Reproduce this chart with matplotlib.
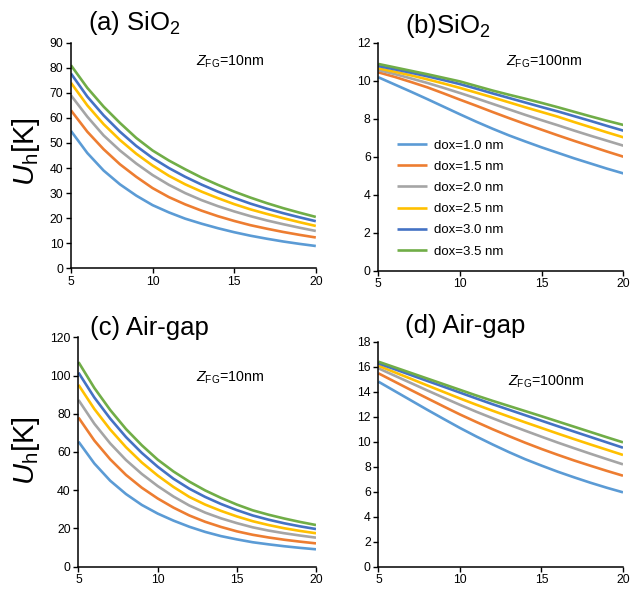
import matplotlib
matplotlib.use("Agg")
import matplotlib.pyplot as plt

plt.rcParams["font.family"] = ["Liberation Sans", "DejaVu Sans"]
plt.rcParams["mathtext.fontset"] = "custom"
plt.rcParams["mathtext.rm"] = "Liberation Sans"
plt.rcParams["mathtext.it"] = "Liberation Sans:italic"

# x axis (same for every panel)
x = [5, 6, 7, 8, 9, 10, 11, 12, 13, 14, 15, 16, 17, 18, 19, 20]

labels = ["dox=1.0 nm", "dox=1.5 nm", "dox=2.0 nm",
          "dox=2.5 nm", "dox=3.0 nm", "dox=3.5 nm"]
colors = ["#5B9BD5", "#ED7D31", "#A5A5A5", "#FFC000", "#4472C4", "#70AD47"]

# (a) SiO2, Z_FG = 10nm
sio2_10 = [
    [54.8, 46.0, 39.0, 33.5, 29.0, 25.2, 22.3, 19.8, 17.8, 16.0, 14.4, 13.0, 11.8, 10.7, 9.75, 8.9],
    [63.0, 54.5, 47.5, 41.5, 36.5, 32.0, 28.4, 25.5, 23.0, 20.8, 18.9, 17.2, 15.8, 14.5, 13.35, 12.3],
    [69.0, 60.5, 53.0, 47.0, 41.8, 37.2, 33.3, 30.0, 27.2, 24.8, 22.7, 20.8, 19.1, 17.6, 16.2, 14.9],
    [74.0, 65.0, 57.5, 51.2, 45.7, 41.0, 36.9, 33.5, 30.6, 28.0, 25.6, 23.5, 21.7, 20.0, 18.4, 16.9],
    [77.7, 68.5, 61.0, 54.5, 48.8, 44.0, 40.0, 36.5, 33.4, 30.6, 28.1, 25.8, 23.8, 22.0, 20.35, 18.8],
    [81.0, 72.0, 64.5, 58.0, 52.0, 47.0, 43.0, 39.5, 36.2, 33.3, 30.6, 28.2, 26.0, 24.0, 22.2, 20.5],
]

# (b) SiO2, Z_FG = 100nm
sio2_100 = [
    [10.18, 9.80, 9.42, 9.03, 8.63, 8.23, 7.84, 7.47, 7.12, 6.80, 6.49, 6.20, 5.91, 5.64, 5.37, 5.12],
    [10.44, 10.20, 9.93, 9.65, 9.33, 9.00, 8.68, 8.35, 8.03, 7.72, 7.42, 7.12, 6.83, 6.55, 6.27, 6.00],
    [10.56, 10.35, 10.12, 9.88, 9.62, 9.35, 9.07, 8.78, 8.49, 8.20, 7.92, 7.65, 7.37, 7.10, 6.84, 6.58],
    [10.65, 10.47, 10.28, 10.07, 9.85, 9.62, 9.37, 9.12, 8.86, 8.60, 8.35, 8.10, 7.82, 7.55, 7.28, 7.02],
    [10.77, 10.60, 10.42, 10.23, 10.03, 9.82, 9.58, 9.33, 9.09, 8.85, 8.61, 8.38, 8.13, 7.88, 7.62, 7.37],
    [10.88, 10.70, 10.52, 10.34, 10.15, 9.96, 9.72, 9.48, 9.26, 9.05, 8.83, 8.60, 8.36, 8.12, 7.89, 7.67],
]

# (c) Air-gap, Z_FG = 10nm
air_10 = [
    [65.4, 54.0, 45.0, 38.0, 32.3, 27.8, 24.1, 20.9, 18.2, 16.0, 14.3, 12.8, 11.7, 10.7, 9.85, 9.1],
    [78.0, 66.0, 56.2, 48.0, 41.3, 35.7, 30.9, 26.8, 23.5, 20.8, 18.5, 16.7, 15.3, 14.1, 13.1, 12.2],
    [87.2, 74.8, 64.5, 55.8, 48.5, 42.2, 36.7, 32.0, 28.3, 25.3, 22.8, 20.6, 18.9, 17.5, 16.3, 15.2],
    [95.1, 82.5, 71.8, 62.5, 54.5, 47.7, 41.7, 36.5, 32.5, 29.2, 26.3, 23.8, 21.8, 20.1, 18.7, 17.5],
    [101.5, 88.5, 77.5, 67.8, 59.5, 52.3, 46.0, 40.8, 36.5, 32.8, 29.6, 26.8, 24.6, 22.7, 21.1, 19.7],
    [107.0, 93.5, 82.0, 72.0, 63.5, 56.0, 49.8, 44.5, 39.9, 36.0, 32.5, 29.5, 27.2, 25.2, 23.4, 21.8],
]

# (d) Air-gap, Z_FG = 100nm
air_100 = [
    [14.80, 14.05, 13.30, 12.55, 11.82, 11.10, 10.42, 9.78, 9.17, 8.60, 8.09, 7.60, 7.15, 6.72, 6.32, 5.95],
    [15.47, 14.80, 14.13, 13.47, 12.82, 12.18, 11.58, 11.00, 10.45, 9.92, 9.42, 8.95, 8.50, 8.08, 7.67, 7.28],
    [15.87, 15.28, 14.69, 14.10, 13.52, 12.95, 12.40, 11.88, 11.37, 10.88, 10.40, 9.93, 9.48, 9.04, 8.61, 8.19],
    [16.08, 15.55, 15.03, 14.50, 13.98, 13.46, 12.96, 12.48, 12.01, 11.55, 11.10, 10.65, 10.21, 9.78, 9.36, 8.94],
    [16.27, 15.80, 15.33, 14.86, 14.40, 13.93, 13.46, 13.00, 12.56, 12.12, 11.68, 11.24, 10.81, 10.38, 9.95, 9.52],
    [16.40, 15.95, 15.50, 15.05, 14.60, 14.15, 13.70, 13.27, 12.86, 12.45, 12.04, 11.62, 11.20, 10.78, 10.36, 9.95],
]

fig = plt.figure(figsize=(6.31, 5.91), dpi=100)

# panel boxes [left, bottom, width, height] in figure fraction
panels = [
    ([0.1125, 0.546, 0.388, 0.3817], sio2_10, 90, 10),
    ([0.5995, 0.542, 0.3883, 0.3858], sio2_100, 12, 2),
    ([0.1244, 0.0411, 0.3764, 0.3882], air_10, 120, 20),
    ([0.5998, 0.0411, 0.3875, 0.3807], air_100, 18, 2),
]

axes = []
for rect, series, ymax, ystep in panels:
    ax = fig.add_axes(rect)
    for ys, c, lab in zip(series, colors, labels):
        ax.plot(x, ys, color=c, lw=1.9, label=lab, solid_capstyle="butt")
    ax.set_xlim(5, 20)
    ax.set_ylim(0, ymax)
    ax.set_xticks([5, 10, 15, 20])
    ax.set_yticks(range(0, ymax + 1, ystep))
    for s in ["top", "right"]:
        ax.spines[s].set_visible(False)
    for s in ["left", "bottom"]:
        ax.spines[s].set_linewidth(1.1)
        ax.spines[s].set_color("black")
    ax.tick_params(direction="out", length=3.5, width=1.0, labelsize=8.8, pad=2)
    axes.append(ax)

# titles, placed as in the original (left of axes centre)
fig.text(88 / 631, 1 - 30 / 591, r"(a) SiO$_2$", fontsize=18.5, va="baseline")
fig.text(405 / 631, 1 - 33 / 591, r"(b)SiO$_2$", fontsize=18.5, va="baseline")
fig.text(90 / 631, 1 - 335 / 591, "(c) Air-gap", fontsize=18.5, va="baseline")
fig.text(405 / 631, 1 - 333 / 591, "(d) Air-gap", fontsize=18.5, va="baseline")

# Z_FG notes
fig.text(196 / 631, 1 - 62 / 591, r"$Z_\mathrm{FG}$=10nm", fontsize=10.3, va="center")
fig.text(506 / 631, 1 - 62 / 591, r"$Z_\mathrm{FG}$=100nm", fontsize=10.3, va="center")
fig.text(196 / 631, 1 - 378 / 591, r"$Z_\mathrm{FG}$=10nm", fontsize=10.3, va="center")
fig.text(508 / 631, 1 - 382 / 591, r"$Z_\mathrm{FG}$=100nm", fontsize=10.3, va="center")

# y labels
fig.text(26 / 631, 1 - 152 / 591, r"$U_\mathrm{h}$[K]", fontsize=21, rotation=90,
         ha="center", va="center")
fig.text(26 / 631, 1 - 451 / 591, r"$U_\mathrm{h}$[K]", fontsize=21, rotation=90,
         ha="center", va="center")

axes[1].legend(loc="upper left", bbox_to_anchor=(0.075, 0.576), frameon=False,
               fontsize=9.5, handlelength=2.3, handletextpad=0.5,
               labelspacing=0.68, borderpad=0, borderaxespad=0)

fig.savefig("out.png", dpi=100)
